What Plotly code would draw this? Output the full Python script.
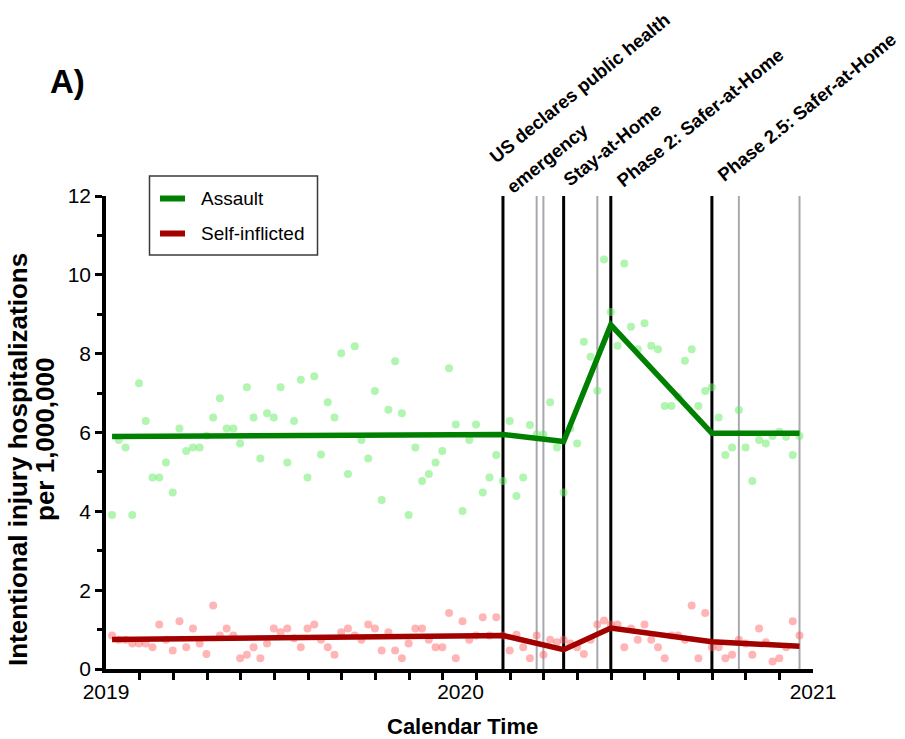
import plotly.graph_objects as go

# ---------------- data ----------------
weeks = list(range(1, 104))  # weekly observations, 2019-2020

assault = [3.91, 5.81, 5.62, 3.91, 7.25, 6.29, 4.86, 4.86, 5.24, 4.48,
           6.10, 5.53, 5.62, 5.62, 5.92, 6.38, 6.87, 6.10, 6.10, 5.72,
           7.15, 6.38, 5.34, 6.49, 6.38, 7.15, 5.24, 6.29, 7.34, 4.86,
           7.43, 5.44, 6.77, 6.38, 8.01, 4.95, 8.19, 5.81, 5.34, 7.05,
           4.29, 6.58, 7.81, 6.49, 3.91, 5.62, 4.77, 4.95, 5.24, 5.53,
           7.63, 6.20, 4.01, 5.81, 6.20, 4.48, 4.86, 5.43, 4.77, 6.29,
           4.39, 4.86, 6.19, 5.95, 5.95, 6.77, 5.62, 4.48, 6.10, 5.72,
           8.30, 7.92, 7.06, 10.39, 9.06, 8.20, 10.29, 8.68, 8.11, 8.77,
           8.20, 8.11, 6.67, 6.67, 6.90, 7.82, 8.11, 6.67, 7.05, 7.15,
           6.38, 5.43, 5.62, 6.57, 5.62, 4.77, 5.81, 5.72, 5.91, 6.02,
           5.89, 5.43, 5.91]

self_inflicted = [0.85, 0.74, 0.74, 0.65, 0.65, 0.65, 0.55, 1.13, 0.74, 0.47,
                  1.21, 0.55, 1.03, 0.65, 0.38, 1.61, 0.85, 1.03, 0.85, 0.27,
                  0.36, 0.55, 0.27, 0.65, 1.03, 0.93, 1.03, 0.78, 0.55, 1.03,
                  1.13, 0.74, 0.55, 0.36, 0.93, 1.03, 0.85, 0.74, 1.13, 1.03,
                  0.47, 0.93, 0.47, 0.27, 0.65, 1.03, 1.03, 0.74, 0.55, 0.55,
                  1.42, 0.27, 1.21, 0.74, 0.85, 1.31, 0.85, 1.31, 0.85, 0.47,
                  0.87, 0.55, 0.27, 0.85, 0.36, 0.74, 0.68, 0.74, 0.65, 0.55,
                  0.38, 0.74, 1.13, 1.23, 1.13, 1.13, 0.55, 1.03, 0.74, 1.13,
                  0.74, 0.55, 0.27, 0.85, 0.85, 0.74, 1.61, 0.27, 1.42, 0.55,
                  0.55, 0.27, 0.36, 0.74, 0.65, 0.36, 1.03, 0.68, 0.19, 0.27,
                  0.55, 1.21, 0.85]

# segmented trend (knots at policy dates)
knot_weeks = [1, 59, 68, 75, 90, 103]
assault_fit = [5.90, 5.95, 5.77, 8.73, 5.98, 5.98]
self_fit = [0.75, 0.85, 0.49, 1.04, 0.69, 0.58]

# policy events
event_weeks = [59, 68, 75, 90]
event_labels = ["US declares public health", "Stay-at-Home",
                "Phase 2: Safer-at-Home", "Phase 2.5: Safer-at-Home"]
minor_event_weeks = [64, 65, 73, 94, 103]

year_labels = ["2019", "2020", "2021"]

# ---------------- layout geometry ----------------
W, H = 905, 739
ML, MR, MT, MB = 106, 92, 196, 70
PW = W - ML - MR
PH = H - MT - MB
X0, X1 = 0.1, 105.0
year_pos = [X0, 52.7, X1]

FONT = "Liberation Sans, Arial, sans-serif"
GREEN = "#008000"
RED = "#a30000"


def pxx(x):
    return (x - ML) / PW


def pxy(y):
    return (H - MB - y) / PH


fig = go.Figure()

fig.add_trace(go.Scatter(x=weeks, y=assault, mode="markers",
                         marker=dict(size=8, color="rgba(100,235,100,0.5)"),
                         showlegend=False, hoverinfo="skip"))
fig.add_trace(go.Scatter(x=weeks, y=self_inflicted, mode="markers",
                         marker=dict(size=8, color="rgba(255,90,90,0.45)"),
                         showlegend=False, hoverinfo="skip"))
fig.add_trace(go.Scatter(x=knot_weeks, y=assault_fit, mode="lines",
                         line=dict(color=GREEN, width=5.5), name="Assault"))
fig.add_trace(go.Scatter(x=knot_weeks, y=self_fit, mode="lines",
                         line=dict(color=RED, width=5.5), name="Self-inflicted"))

shapes = []
for wk in minor_event_weeks:
    shapes.append(dict(type="line", xref="x", yref="paper", x0=wk, x1=wk, y0=0, y1=1,
                       line=dict(color="#a8a8ae", width=2), layer="below"))
for wk in event_weeks:
    shapes.append(dict(type="line", xref="x", yref="paper", x0=wk, x1=wk, y0=0, y1=1,
                       line=dict(color="black", width=3), layer="below"))

# manual legend
shapes.append(dict(type="rect", xref="paper", yref="paper",
                   x0=pxx(149.5), x1=pxx(317.5), y0=pxy(255), y1=pxy(176),
                   line=dict(color="#3a3a3a", width=1.5), fillcolor="white"))
for yy, col in [(198.5, GREEN), (233.5, RED)]:
    shapes.append(dict(type="line", xref="paper", yref="paper",
                       x0=pxx(160), x1=pxx(185), y0=pxy(yy), y1=pxy(yy),
                       line=dict(color=col, width=6)))

annotations = []
for yy, txt in [(198.5, "Assault"), (233.5, "Self-inflicted")]:
    annotations.append(dict(xref="paper", yref="paper", x=pxx(199), y=pxy(yy),
                            text=txt, showarrow=False, xanchor="left", yanchor="middle",
                            font=dict(family=FONT, size=19, color="black")))

# rotated event labels (centres in pixels)
label_centres = [(579, 88), (612.5, 145), (700, 117), (806, 107)]
for (cx, cy), txt in zip(label_centres, event_labels):
    annotations.append(dict(xref="paper", yref="paper", x=pxx(cx), y=pxy(cy),
                            text="<b>%s</b>" % txt, showarrow=False, textangle=-39,
                            xanchor="center", yanchor="middle",
                            font=dict(family=FONT, size=18.5, color="black")))
annotations.append(dict(xref="paper", yref="paper", x=pxx(547), y=pxy(158),
                        text="<b>emergency</b>", showarrow=False, textangle=-39,
                        xanchor="center", yanchor="middle",
                        font=dict(family=FONT, size=18.5, color="black")))

# panel label
annotations.append(dict(xref="paper", yref="paper", x=pxx(67.5), y=pxy(82),
                        text="<b>A)</b>", showarrow=False, xanchor="center", yanchor="middle",
                        font=dict(family=FONT, size=33, color="black")))

# axis titles
annotations.append(dict(xref="paper", yref="paper", x=pxx(462.5), y=pxy(726),
                        text="<b>Calendar Time</b>", showarrow=False,
                        xanchor="center", yanchor="middle",
                        font=dict(family=FONT, size=22, color="black")))
annotations.append(dict(xref="paper", yref="paper", x=pxx(18), y=pxy(460),
                        text="<b>Intentional injury hospitalizations</b>", showarrow=False,
                        textangle=-90, xanchor="center", yanchor="middle",
                        font=dict(family=FONT, size=26, color="black")))
annotations.append(dict(xref="paper", yref="paper", x=pxx(45), y=pxy(440),
                        text="<b>per 1,000,000</b>", showarrow=False,
                        textangle=-90, xanchor="center", yanchor="middle",
                        font=dict(family=FONT, size=26, color="black")))

minor_x = [X0 + (X1 - X0) * k / 21 for k in range(1, 21)]

fig.update_layout(
    width=W, height=H,
    margin=dict(l=ML, r=MR, t=MT, b=MB, autoexpand=False),
    plot_bgcolor="white", paper_bgcolor="white",
    showlegend=False,
    shapes=shapes, annotations=annotations,
    font=dict(family=FONT, color="black"),
    xaxis=dict(range=[X0, X1], showgrid=False, zeroline=False,
               showline=True, linecolor="black", linewidth=3.5,
               tickmode="array", tickvals=year_pos, ticktext=year_labels,
               ticks="outside", ticklen=1, tickcolor="rgba(0,0,0,0)",
               tickfont=dict(family=FONT, size=21, color="black"),
               minor=dict(tickmode="array", tickvals=minor_x, ticks="outside",
                          ticklen=7, tickwidth=2.5, tickcolor="black", showgrid=False)),
    yaxis=dict(range=[0, 12], showgrid=False, zeroline=False,
               showline=True, linecolor="black", linewidth=3.5,
               tickmode="array", tickvals=[0, 2, 4, 6, 8, 10, 12],
               ticks="outside", ticklen=7, tickwidth=2.5, tickcolor="black",
               tickfont=dict(family=FONT, size=21, color="black"),
               minor=dict(tickmode="array", tickvals=[1, 3, 5, 7, 9, 11], ticks="outside",
                          ticklen=5, tickwidth=2.5, tickcolor="black", showgrid=False)),
)

fig.write_html("out.html", config={"displayModeBar": False},
               post_script="document.body.style.margin='0';document.body.style.padding='0';")
